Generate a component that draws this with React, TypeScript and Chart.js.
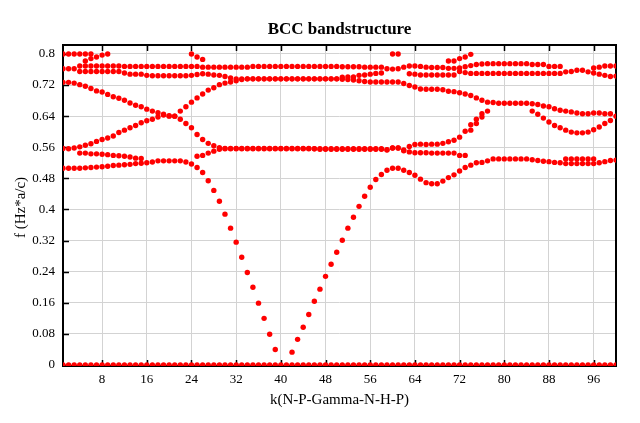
import React, { useEffect, useRef } from "react";
import { Chart, registerables } from "chart.js";

Chart.register(...registerables);

// ---- data -------------------------------------------------------------
const chartTitle = "BCC bandstructure";
const xTitle = "k(N-P-Gamma-N-H-P)";
const yTitle = "f (Hz*a/c)";

const xTickValues = [8, 16, 24, 32, 40, 48, 56, 64, 72, 80, 88, 96];
const yTickValues = [0, 0.08, 0.16, 0.24, 0.32, 0.4, 0.48, 0.56, 0.64, 0.72, 0.8];
const yTickLabels = ["0", "0.08", "0.16", "0.24", "0.32", "0.4", "0.48", "0.56", "0.64", "0.72", "0.8"];

// k index 1..100 is the position in each array
const bandZero = [
  0, 0, 0, 0, 0, 0, 0, 0, 0, 0,
  0, 0, 0, 0, 0, 0, 0, 0, 0, 0,
  0, 0, 0, 0, 0, 0, 0, 0, 0, 0,
  0, 0, 0, 0, 0, 0, 0, 0, 0, 0,
  0, 0, 0, 0, 0, 0, 0, 0, 0, 0,
  0, 0, 0, 0, 0, 0, 0, 0, 0, 0,
  0, 0, 0, 0, 0, 0, 0, 0, 0, 0,
  0, 0, 0, 0, 0, 0, 0, 0, 0, 0,
  0, 0, 0, 0, 0, 0, 0, 0, 0, 0,
  0, 0, 0, 0, 0, 0, 0, 0, 0, 0,
];

const bandLow = [
  0.506, 0.506, 0.506, 0.506, 0.507, 0.508, 0.509, 0.510, 0.511, 0.513,
  0.514, 0.515, 0.516, 0.518, 0.519, 0.520, 0.522, 0.525, 0.525, 0.525,
  0.525, 0.525, 0.522, 0.517, 0.508, 0.495, 0.474, 0.449, 0.421, 0.388,
  0.352, 0.316, 0.277, 0.238, 0.200, 0.159, 0.120, 0.079, 0.040, null,
  null, 0.033, 0.066, 0.097, 0.130, 0.164, 0.195, 0.228, 0.259, 0.290,
  0.321, 0.352, 0.380, 0.408, 0.434, 0.457, 0.477, 0.490, 0.501, 0.506,
  0.506, 0.501, 0.495, 0.488, 0.478, 0.469, 0.466, 0.466, 0.473, 0.482,
  0.489, 0.499, 0.508, 0.514, 0.520, 0.521, 0.525, 0.530, 0.530, 0.530,
  0.530, 0.530, 0.530, 0.530, 0.528, 0.526, 0.524, 0.523, 0.521, 0.520,
  0.518, 0.518, 0.518, 0.518, 0.518, 0.518, 0.520, 0.523, 0.526, 0.527,
];

const bandSecond = [
  null, null, null, 0.545, 0.545, 0.543, 0.543, 0.542, 0.541, 0.539,
  0.538, 0.537, 0.535, 0.532, 0.531, null, null, null, null, null,
  null, null, null, null, 0.537, 0.539, 0.545, 0.550, 0.555, 0.556,
  0.556, 0.556, 0.556, 0.556, 0.556, 0.556, 0.556, 0.556, 0.556, 0.556,
  0.556, 0.556, 0.556, 0.556, 0.556, 0.556, 0.556, 0.556, 0.556, 0.556,
  0.556, 0.556, 0.556, 0.556, 0.556, 0.556, 0.556, 0.556, 0.554, 0.558,
  0.558, 0.551, 0.548, 0.546, 0.546, 0.546, 0.545, 0.545, 0.545, 0.545,
  0.545, 0.539, 0.539, null, null, null, null, null, null, null,
  null, null, null, null, null, null, null, null, null, null,
  0.530, 0.530, 0.530, 0.530, 0.530, 0.530, null, null, null, null,
];

const bandDown = [
  0.727, 0.727, 0.725, 0.721, 0.717, 0.711, 0.705, 0.702, 0.696, 0.690,
  0.686, 0.681, 0.674, 0.668, 0.664, 0.658, 0.653, 0.649, 0.645, 0.641,
  0.640, 0.632, 0.621, 0.610, 0.593, 0.580, 0.570, 0.564, 0.559, 0.557,
  0.557, 0.557, 0.557, 0.557, 0.557, 0.557, 0.557, 0.557, 0.557, 0.557,
  0.557, 0.557, 0.557, 0.557, 0.557, 0.556, 0.555, 0.555, 0.555, 0.555,
  0.555, 0.555, 0.555, 0.555, 0.555, 0.555, 0.555, 0.555, 0.553, 0.558,
  0.558, 0.553, 0.562, 0.567, 0.568, 0.567, 0.568, 0.568, 0.570, 0.574,
  0.578, 0.586, 0.601, 0.618, 0.632, 0.646, 0.653, null, null, null,
  null, null, null, null, null, null, null, null, null, null,
  null, null, null, null, null, null, null, null, null, null,
];

const bandUp = [
  0.557, 0.556, 0.558, 0.561, 0.565, 0.569, 0.575, 0.580, 0.584, 0.589,
  0.598, 0.604, 0.610, 0.616, 0.623, 0.628, 0.632, 0.638, 0.643, 0.640,
  0.640, 0.653, 0.664, 0.676, 0.687, 0.697, 0.707, 0.713, 0.721, 0.725,
  0.728, 0.731, 0.734, 0.736, 0.736, 0.736, 0.736, 0.736, 0.736, 0.736,
  0.736, 0.736, 0.736, 0.736, 0.736, 0.736, 0.736, 0.736, 0.736, 0.736,
  0.735, 0.734, 0.733, 0.731, 0.729, 0.728, 0.728, 0.728, 0.728, 0.728,
  0.728, 0.724, 0.719, 0.715, 0.710, 0.709, 0.709, 0.709, 0.708, 0.704,
  0.703, 0.700, 0.697, 0.693, 0.687, 0.681, 0.676, 0.675, 0.673, 0.673,
  0.673, 0.673, 0.673, 0.673, 0.672, 0.670, 0.666, 0.664, 0.659, 0.655,
  0.653, 0.651, 0.648, 0.646, 0.646, 0.648, 0.648, 0.646, 0.646, 0.640,
];

const bandDip = [
  null, null, null, null, null, null, null, null, null, null,
  null, null, null, null, null, null, null, null, null, null,
  null, null, null, null, null, null, null, null, null, null,
  null, null, null, null, null, null, null, null, null, null,
  null, null, null, null, null, null, null, null, null, null,
  null, null, null, null, null, null, null, null, null, null,
  null, null, null, null, null, null, null, null, null, null,
  null, null, null, 0.604, 0.621, 0.638, null, null, null, null,
  null, null, null, null, 0.653, 0.645, 0.635, 0.625, 0.616, 0.610,
  0.604, 0.599, 0.597, 0.597, 0.599, 0.605, 0.612, 0.621, 0.629, null,
];

const bandUpper = [
  0.762, 0.762, 0.762, 0.769, 0.769, 0.769, 0.769, 0.769, 0.769, 0.769,
  0.769, 0.768, 0.768, 0.768, 0.768, 0.768, 0.768, 0.768, 0.768, 0.768,
  0.768, 0.768, 0.768, 0.768, 0.768, 0.766, 0.766, 0.766, 0.766, 0.766,
  0.766, 0.766, 0.766, 0.766, 0.768, 0.768, 0.768, 0.768, 0.768, 0.768,
  0.768, 0.768, 0.768, 0.768, 0.768, 0.768, 0.768, 0.768, 0.768, 0.768,
  0.767, 0.767, 0.767, 0.767, 0.766, 0.766, 0.766, 0.766, 0.762, 0.761,
  0.762, 0.766, 0.769, 0.769, 0.768, 0.766, 0.765, 0.765, 0.765, 0.763,
  0.763, 0.764, 0.767, 0.770, 0.773, 0.774, 0.775, 0.775, 0.775, 0.775,
  0.775, 0.775, 0.775, 0.775, 0.773, 0.773, 0.773, 0.768, 0.768, 0.768,
  0.754, 0.755, 0.758, 0.758, 0.754, 0.764, 0.766, 0.769, 0.769, 0.769,
];

const bandLower = [
  null, null, null, 0.755, 0.755, 0.755, 0.755, 0.755, 0.755, 0.755,
  0.755, 0.751, 0.748, 0.748, 0.748, 0.745, 0.744, 0.744, 0.744, 0.744,
  0.744, 0.744, 0.744, 0.745, 0.747, 0.749, 0.748, 0.746, 0.745, 0.742,
  0.738, 0.736, 0.736, 0.736, 0.736, 0.736, 0.736, 0.736, 0.736, 0.736,
  0.736, 0.736, 0.736, 0.736, 0.736, 0.736, 0.736, 0.736, 0.736, 0.736,
  0.740, 0.741, 0.741, 0.745, 0.746, 0.748, 0.750, 0.751, null, null,
  null, null, 0.749, 0.748, 0.746, 0.746, 0.746, 0.746, 0.746, 0.746,
  0.746, 0.755, 0.752, 0.750, 0.750, 0.750, 0.750, 0.750, 0.750, 0.750,
  0.750, 0.750, 0.750, 0.750, 0.750, 0.750, 0.750, 0.750, 0.750, 0.750,
  null, null, null, null, null, 0.751, 0.748, 0.745, 0.742, 0.743,
];

const bandTop = [
  0.800, 0.800, 0.800, 0.800, 0.800, 0.800, null, null, null, null,
  null, null, null, null, null, null, null, null, null, null,
  null, null, null, 0.800, null, null, null, null, null, null,
  null, null, null, null, null, null, null, null, null, null,
  null, null, null, null, null, null, null, null, null, null,
  null, null, null, null, null, null, null, null, null, 0.800,
  0.800, null, null, null, null, null, null, null, null, null,
  null, null, null, null, null, null, null, null, null, null,
  null, null, null, null, null, null, null, null, null, null,
  null, null, null, null, null, null, null, null, null, null,
];

const bandTopRise = [
  null, null, null, null, 0.782, 0.788, 0.792, 0.797, 0.800, null,
  null, null, null, null, null, null, null, null, null, null,
  null, null, null, null, 0.792, 0.786, null, null, null, null,
  null, null, null, null, null, null, null, null, null, null,
  null, null, null, null, null, null, null, null, null, null,
  null, null, null, null, null, null, null, null, null, null,
  null, null, null, null, null, null, null, null, null, 0.782,
  0.782, 0.788, 0.792, 0.799, null, null, null, null, null, null,
  null, null, null, null, null, null, null, null, null, null,
  null, null, null, null, null, null, null, null, null, null,
];

const bands = [
  bandZero, bandLow, bandSecond, bandDown, bandUp, bandDip,
  bandUpper, bandLower, bandTop, bandTopRise,
];

// ---- styling -------------------------------------------------------------
const SERIF = '"Liberation Serif", "Times New Roman", serif';
const DOT = "#ff0000";

const decorPlugin = {
  id: "decor",
  beforeDatasetsDraw(chart: any) {
    const { ctx, chartArea: a, scales } = chart;
    ctx.save();
    ctx.strokeStyle = "#000";
    ctx.lineWidth = 1.5;
    ctx.beginPath();
    for (const v of xTickValues) {
      const px = Math.round(scales.x.getPixelForValue(v)) + 0.5;
      ctx.moveTo(px, a.bottom);
      ctx.lineTo(px, a.bottom - 6);
      ctx.moveTo(px, a.top);
      ctx.lineTo(px, a.top + 6);
    }
    for (const v of yTickValues) {
      const py = Math.round(scales.y.getPixelForValue(v)) + 0.5;
      ctx.moveTo(a.left, py);
      ctx.lineTo(a.left + 6, py);
    }
    ctx.stroke();
    ctx.lineWidth = 2;
    ctx.strokeRect(a.left, a.top, a.right - a.left, a.bottom - a.top);
    ctx.restore();
  },
  afterDraw(chart: any) {
    const { ctx, chartArea: a } = chart;
    const cx = (a.left + a.right) / 2;
    ctx.save();
    ctx.fillStyle = "#000";
    ctx.textAlign = "center";
    ctx.textBaseline = "middle";
    ctx.font = `bold 17px ${SERIF}`;
    ctx.fillText(chartTitle, cx, 30);
    ctx.font = `15px ${SERIF}`;
    ctx.fillText(xTitle, cx, 400);
    ctx.translate(21, (a.top + a.bottom) / 2 + 2);
    ctx.rotate(-Math.PI / 2);
    ctx.fillText(yTitle, 0, 0);
    ctx.restore();
  },
};

export default function App() {
  const canvasRef = useRef<HTMLCanvasElement | null>(null);

  useEffect(() => {
    const canvas = canvasRef.current;
    if (!canvas) return;
    const datasets = bands.map((band, bi) => ({
      label: `band ${bi}`,
      data: band
        .map((v, i) => (v === null ? null : { x: i + 1, y: v }))
        .filter((p) => p !== null),
      backgroundColor: DOT,
      borderColor: DOT,
      borderWidth: 0,
      pointRadius: 2.7,
      pointHoverRadius: 2.7,
      showLine: false,
    }));

    const chart = new Chart(canvas, {
      type: "scatter",
      data: { datasets: datasets as any },
      plugins: [decorPlugin],
      options: {
        animation: false,
        responsive: false,
        events: [],
        layout: { padding: { left: 0, right: 24, top: 45, bottom: 0 } },
        plugins: {
          legend: { display: false },
          title: { display: false },
          tooltip: { enabled: false },
        },
        scales: {
          x: {
            type: "linear",
            min: 1,
            max: 100,
            afterBuildTicks: (s: any) => {
              s.ticks = xTickValues.map((v) => ({ value: v }));
            },
            afterFit: (s: any) => {
              s.height = 57;
            },
            ticks: {
              autoSkip: false,
              maxRotation: 0,
              padding: 6,
              color: "#000",
              font: { family: SERIF, size: 13 },
              callback: (v: any) => String(v),
            },
            grid: { color: "#d3d3d3", lineWidth: 1, drawTicks: false },
            border: { display: false },
          },
          y: {
            type: "linear",
            min: -0.0026,
            max: 0.823,
            afterBuildTicks: (s: any) => {
              s.ticks = yTickValues.map((v) => ({ value: v }));
            },
            afterFit: (s: any) => {
              s.width = 63;
            },
            ticks: {
              autoSkip: false,
              padding: 8,
              color: "#000",
              font: { family: SERIF, size: 13 },
              callback: (_v: any, i: number) => yTickLabels[i],
            },
            grid: { color: "#d3d3d3", lineWidth: 1, drawTicks: false },
            border: { display: false },
          },
        },
      },
    });
    return () => chart.destroy();
  }, []);

  return (
    <div style={{ position: "absolute", left: 0, top: 0, width: 640, height: 423, background: "#fff" }}>
      <canvas ref={canvasRef} width={640} height={423} style={{ display: "block" }} />
    </div>
  );
}
